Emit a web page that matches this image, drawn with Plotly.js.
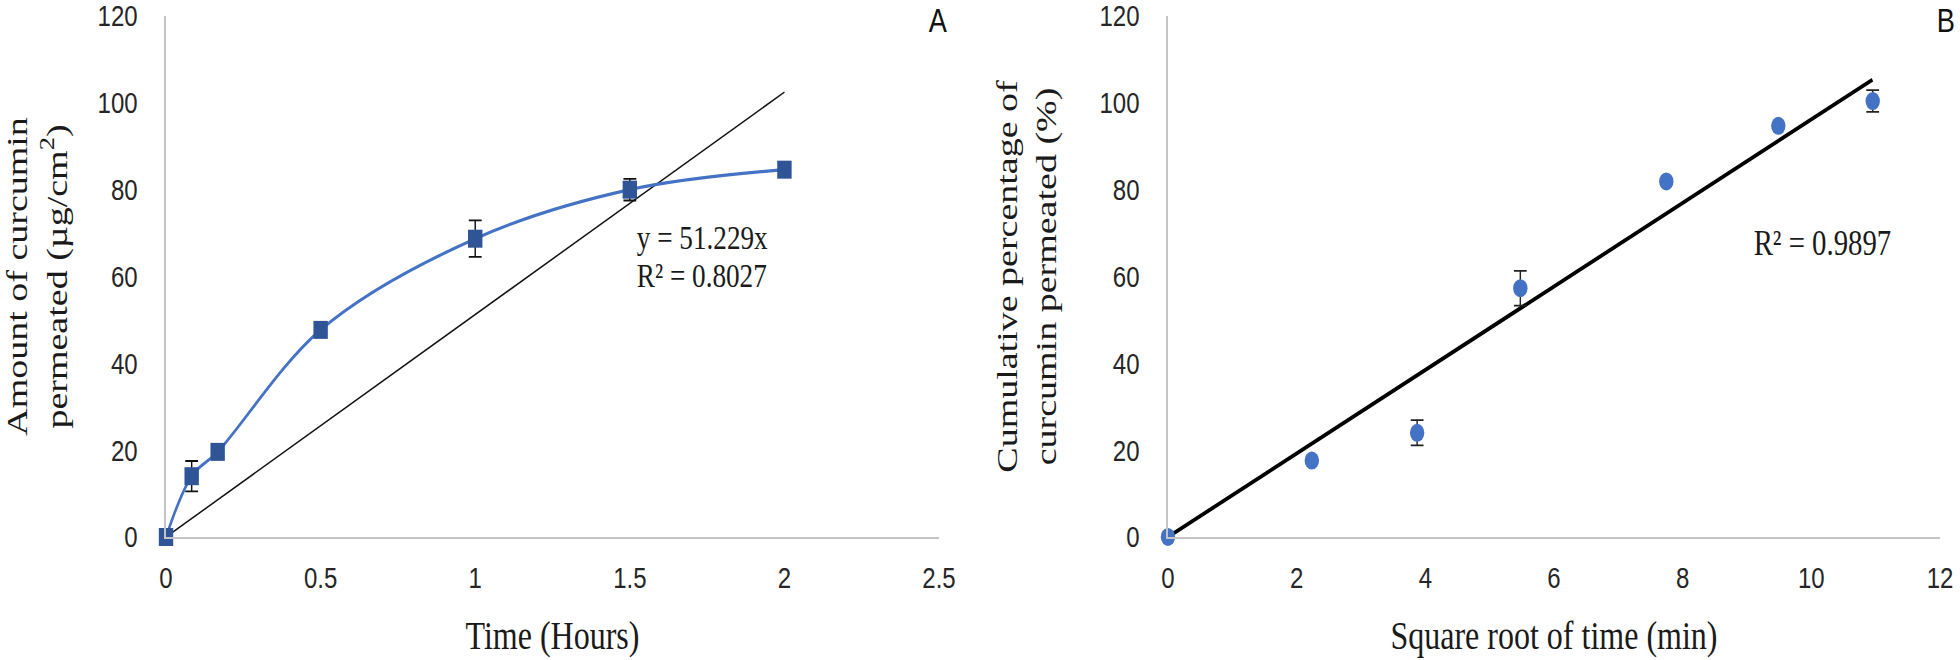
<!DOCTYPE html>
<html>
<head>
<meta charset="utf-8">
<script src="https://cdn.plot.ly/plotly-3.0.1.min.js"></script>
<style>
html, body { margin:0; padding:0; overflow:hidden; background:#fff; }
#chart { width:2450px; height:660px; transform:scaleX(0.8); transform-origin:0 0; }
</style>
</head>
<body>
<div id="chart"></div>
<script>
// Panel A: amount permeated vs time (hours)
const timeHours = [0, 0.083, 0.167, 0.5, 1, 1.5, 2];
const amountPermeated = [0, 14, 19.6, 47.7, 68.7, 80, 84.6];
const amountError = [0, 3.5, 0, 0, 4.2, 2.5, 0];
const trendAX = [0, 2];
const trendAY = [0, 102.46];

// Panel B: cumulative % vs square root of time (min)
const sqrtTime = [0, 2.236, 3.873, 5.477, 7.746, 9.487, 10.954];
const cumulativePct = [0, 17.6, 24.0, 57.3, 81.9, 94.7, 100.4];
const cumulativeError = [0, 0, 2.9, 4.0, 0, 0, 2.5];
const trendBX = [0, 10.95];
const trendBY = [0, 105.3];

const tickFont = {family: 'Liberation Sans Narrow, Liberation Sans, Arial, sans-serif', size: 30, color: '#262626'};
const titleFont = {family: 'Liberation Serif, Times New Roman, serif', size: 38, color: '#1a1a1a'};
const xTitleFont = {family: 'Liberation Serif, Times New Roman, serif', size: 40, color: '#1a1a1a'};
const annFont = {family: 'Liberation Serif, Times New Roman, serif', size: 34, color: '#1a1a1a'};
const panelFont = {family: 'Liberation Sans, Arial, sans-serif', size: 34, color: '#111'};

const traces = [
  {x: trendAX, y: trendAY, xaxis:'x', yaxis:'y', mode:'lines', line:{color:'#111', width:1.6}, hoverinfo:'skip', cliponaxis:false},
  {x: timeHours, y: amountPermeated, xaxis:'x', yaxis:'y', mode:'lines+markers',
   line:{color:'#4472C4', width:3.2, shape:'spline', smoothing:1},
   marker:{symbol:'square', size:18, color:'#2F5597'},
   error_y:{type:'data', array: amountError, visible:true, color:'#111', thickness:1.8, width:8},
   cliponaxis:false},
  {x: trendBX, y: trendBY, xaxis:'x2', yaxis:'y2', mode:'lines', line:{color:'#000', width:4}, hoverinfo:'skip', cliponaxis:false},
  {x: sqrtTime, y: cumulativePct, xaxis:'x2', yaxis:'y2', mode:'markers',
   marker:{symbol:'circle', size:18, color:'#4472C4'},
   error_y:{type:'data', array: cumulativeError, visible:true, color:'#222', thickness:1.8, width:8},
   cliponaxis:false}
];

const axisCommon = {showline:true, linecolor:'#c4c4c4', linewidth:2.5, showgrid:false, zeroline:false, ticks:'', tickfont:tickFont, fixedrange:true, ticklabeloverflow:'allow'};

const layout = {
  width:2450, height:660,
  margin:{l:0, r:0, t:0, b:0},
  paper_bgcolor:'#fff', plot_bgcolor:'#fff',
  showlegend:false,
  xaxis: Object.assign({}, axisCommon, {domain:[0.0847, 0.4791], range:[0,2.5], dtick:0.5, tick0:0, anchor:'y', ticklabelstandoff:13,
          title:{text:'Time (Hours)', font:xTitleFont, standoff:28}}),
  yaxis: Object.assign({}, axisCommon, {domain:[0.1864, 0.9758], range:[0,120], dtick:20, tick0:0, anchor:'x', ticklabelstandoff:27,
          title:{text:'Amount of curcumin<br>permeated (µg/cm<sup>2</sup>)', font:titleFont, standoff:35}}),
  xaxis2: Object.assign({}, axisCommon, {domain:[0.5959, 0.9898], range:[0,12], dtick:2, tick0:0, anchor:'y2', ticklabelstandoff:13,
          title:{text:'Square root of time (min)', font:xTitleFont, standoff:28}}),
  yaxis2: Object.assign({}, axisCommon, {domain:[0.1864, 0.9758], range:[0,120], dtick:20, tick0:0, anchor:'x2', ticklabelstandoff:27,
          title:{text:'Cumulative percentage of<br>curcumin permeated (%)', font:titleFont, standoff:42}}),
  annotations: [
    {xref:'x', yref:'y', x:1.517, y:68.9, text:'y = 51.229x', showarrow:false, xanchor:'left', yanchor:'middle', font:annFont},
    {xref:'x', yref:'y', x:1.517, y:60.3, text:'R² = 0.8027', showarrow:false, xanchor:'left', yanchor:'middle', font:annFont},
    {xref:'x2', yref:'y2', x:9.08, y:67.8, text:'R² = 0.9897', showarrow:false, xanchor:'left', yanchor:'middle', font:Object.assign({}, annFont, {size:36})},
    {xref:'paper', yref:'paper', x:0.4786, y:1, text:'A', showarrow:false, xanchor:'center', yanchor:'top', borderpad:0, font:panelFont},
    {xref:'paper', yref:'paper', x:0.9929, y:1, text:'B', showarrow:false, xanchor:'center', yanchor:'top', borderpad:0, font:panelFont}
  ]
};

Plotly.newPlot('chart', traces, layout, {displayModeBar:false, responsive:false, staticPlot:true});
</script>
</body>
</html>
